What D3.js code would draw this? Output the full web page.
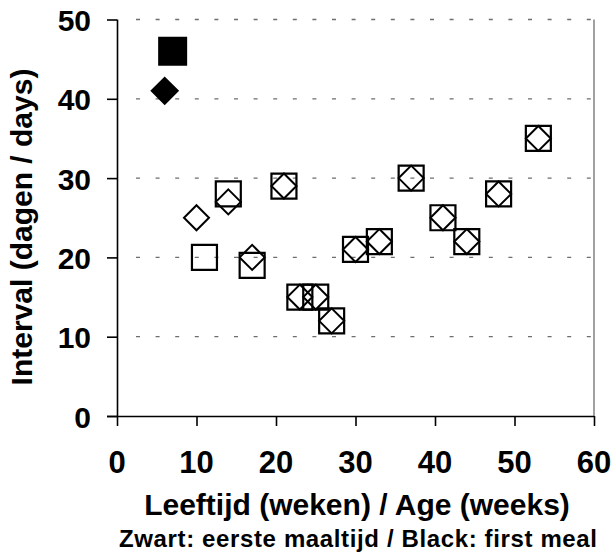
<!DOCTYPE html>
<html>
<head>
<meta charset="utf-8">
<script src="https://cdn.jsdelivr.net/npm/d3@7"></script>
<style>
html,body{margin:0;padding:0;background:#fff;}
svg{display:block;font-family:"Liberation Sans",Arial,sans-serif;font-weight:bold;}
</style>
</head>
<body>
<svg id="chart" width="613" height="553"></svg>
<script>
// Data
const squareAge      = [11, 14, 17, 21, 23, 25, 27, 30, 33, 37, 41, 44, 48, 53];
const squareInterval = [20, 28, 19, 29, 15, 15, 12, 21, 22, 30, 25, 22, 28, 35];
const diamondAge      = [10, 14, 17, 21, 23, 25, 27, 30, 33, 37, 41, 44, 48, 53];
const diamondInterval = [25, 27, 20, 29, 15, 15, 12, 21, 22, 30, 25, 22, 28, 35];
const firstSquareAge = [7],  firstSquareInterval = [46];
const firstDiamondAge = [6], firstDiamondInterval = [41];
const xTicks = [0, 10, 20, 30, 40, 50, 60];
const yTicks = [0, 10, 20, 30, 40, 50];
const xTitle = "Leeftijd (weken) / Age (weeks)";
const subTitle = "Zwart: eerste maaltijd / Black: first meal";
const yTitle = "Interval (dagen / days)";

const svg = d3.select("#chart");
const L = 117, R = 594, T = 19.5, B = 416;
const x = d3.scaleLinear().domain([0, 60]).range([L, R]);
const y = d3.scaleLinear().domain([0, 50]).range([B, T]);

// gridlines
svg.append("g").selectAll("line").data(yTicks.filter(d => d > 0)).join("line")
  .attr("x1", L + 19).attr("x2", R - 2)
  .attr("y1", d => y(d)).attr("y2", d => y(d))
  .attr("stroke", "#6e6e6e").attr("stroke-width", 1.3)
  .attr("stroke-dasharray", "4 15.6");

// right border
svg.append("line").attr("x1", R).attr("x2", R).attr("y1", T).attr("y2", B)
  .attr("stroke", "#8a8a8a").attr("stroke-width", 1.6);

// Axes
const xAxis = d3.axisBottom(x).tickValues(xTicks).tickSize(10).tickFormat("");
const yAxis = d3.axisLeft(y).tickValues(yTicks).tickSize(10).tickFormat("");
const gx = svg.append("g").attr("transform", `translate(0,${B})`).call(xAxis);
const gy = svg.append("g").attr("transform", `translate(${L},0)`).call(yAxis);
[gx, gy].forEach(g => {
  g.select(".domain").attr("stroke", "#000").attr("stroke-width", 1.6);
  g.selectAll(".tick line").attr("stroke", "#000").attr("stroke-width", 1.6);
});
gx.select(".domain").attr("d", `M${L - 10},0.5H${R}`);
gy.select(".domain").attr("d", `M0.5,${B}V${T}`);

// tick labels
svg.append("g").selectAll("text").data(xTicks).join("text")
  .attr("x", d => x(d)).attr("y", 473)
  .attr("text-anchor", "middle").attr("font-size", 31)
  .text(d => d);
svg.append("g").selectAll("text").data(yTicks).join("text")
  .attr("x", 91).attr("y", d => y(d) + 11.5)
  .attr("text-anchor", "end").attr("font-size", 30)
  .text(d => d);

// titles
svg.append("text").attr("x", 357).attr("y", 515).attr("text-anchor", "middle")
  .attr("font-size", 30).text(xTitle);
svg.append("text").attr("x", 358).attr("y", 547).attr("text-anchor", "middle")
  .attr("font-size", 24).attr("textLength", 478).attr("lengthAdjust", "spacing")
  .text(subTitle);
svg.append("text").attr("transform", "translate(32,227) rotate(-90)")
  .attr("text-anchor", "middle").attr("font-size", 30).text(yTitle);

// markers
const sqPath = s => `M${-s/2},${-s/2}H${s/2}V${s/2}H${-s/2}Z`;
const dmPath = s => `M0,${-s/2}L${s/2},0L0,${s/2}L${-s/2},0Z`;

const openSquares = squareAge.map((a, i) => ({a, v: squareInterval[i]}));
const openDiamonds = diamondAge.map((a, i) => ({a, v: diamondInterval[i]}));

svg.append("g").selectAll("path").data(openSquares).join("path")
  .attr("transform", d => `translate(${x(d.a)},${y(d.v)})`)
  .attr("d", sqPath(25)).attr("fill", "none").attr("stroke", "#000").attr("stroke-width", 2.2);
svg.append("g").selectAll("path").data(openDiamonds).join("path")
  .attr("transform", d => `translate(${x(d.a)},${y(d.v)})`)
  .attr("d", dmPath(25)).attr("fill", "none").attr("stroke", "#000").attr("stroke-width", 2);

svg.append("g").selectAll("path").data(firstSquareAge.map((a, i) => ({a, v: firstSquareInterval[i]}))).join("path")
  .attr("transform", d => `translate(${x(d.a)},${y(d.v)})`)
  .attr("d", sqPath(27)).attr("fill", "#000").attr("stroke", "#000").attr("stroke-width", 2);
svg.append("g").selectAll("path").data(firstDiamondAge.map((a, i) => ({a, v: firstDiamondInterval[i]}))).join("path")
  .attr("transform", d => `translate(${x(d.a)},${y(d.v)})`)
  .attr("d", dmPath(26)).attr("fill", "#000").attr("stroke", "#000").attr("stroke-width", 2);
</script>
</body>
</html>
